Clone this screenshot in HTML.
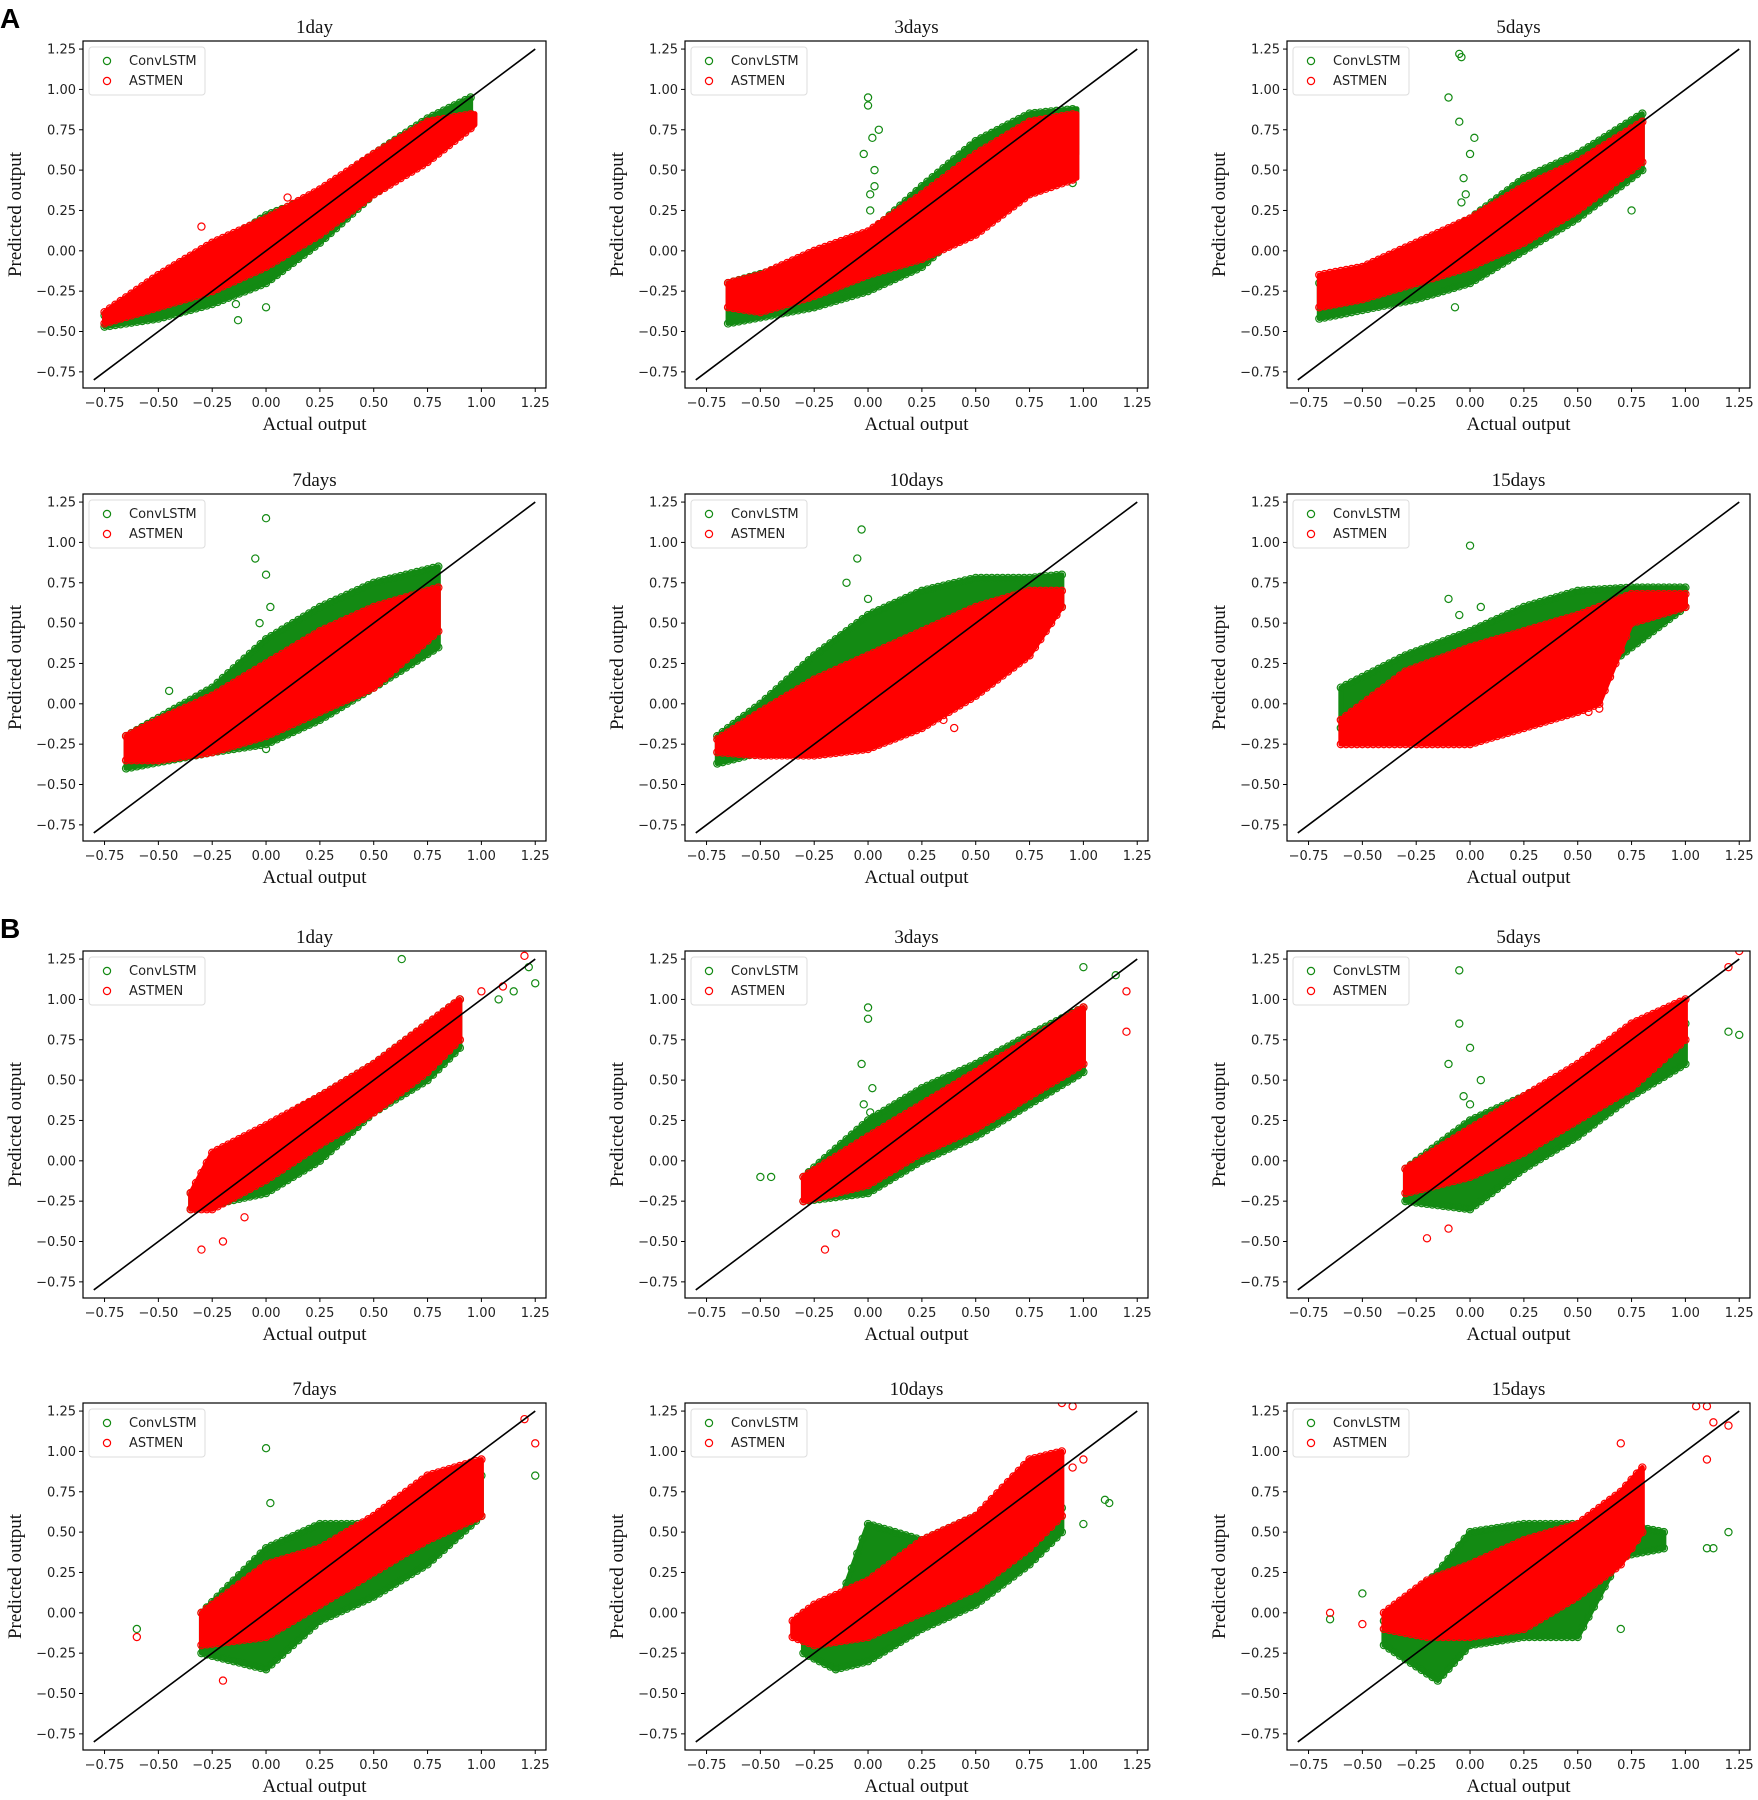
<!DOCTYPE html>
<html><head><meta charset="utf-8"><style>
html,body{margin:0;padding:0;background:#fff;}
svg{display:block;}
.tick{font-family:"DejaVu Sans","Liberation Sans",sans-serif;font-size:13px;fill:#222;}
.ttl{font-family:"Liberation Serif",serif;font-size:19px;fill:#111;}
.leg{font-family:"DejaVu Sans","Liberation Sans",sans-serif;font-size:13px;fill:#222;}
</style></head><body>
<svg id="fig" width="1758" height="1800" viewBox="0 0 1758 1800" xmlns="http://www.w3.org/2000/svg">
<text x="0" y="28" font-family="Liberation Sans,sans-serif" font-weight="bold" font-size="28">A</text>
<text x="0" y="938" font-family="Liberation Sans,sans-serif" font-weight="bold" font-size="28">B</text>
</svg>
<script>
const xTicks=[-0.75,-0.5,-0.25,0,0.25,0.5,0.75,1,1.25];
const yTicks=[-0.75,-0.5,-0.25,0,0.25,0.5,0.75,1,1.25];
const tickLabels=["−0.75","−0.50","−0.25","0.00","0.25","0.50","0.75","1.00","1.25"];
const titles=["1day","3days","5days","7days","10days","15days","1day","3days","5days","7days","10days","15days"];

// A1
const A1_gx=[-0.75,-0.5,-0.25,0,0.25,0.5,0.75,0.95];
const A1_glo=[-0.47,-0.42,-0.33,-0.2,0.05,0.35,0.6,0.85];
const A1_ghi=[-0.4,-0.2,0.0,0.22,0.35,0.6,0.82,0.95];
const A1_rx=[-0.75,-0.5,-0.25,0,0.25,0.5,0.75,0.97];
const A1_rlo=[-0.45,-0.35,-0.25,-0.1,0.1,0.35,0.55,0.78];
const A1_rhi=[-0.38,-0.15,0.05,0.2,0.38,0.6,0.8,0.85];
const A1_gout=[-0.13,-0.43,0.0,-0.35,-0.14,-0.33];
const A1_rout=[-0.3,0.15,0.1,0.33];
// A2
const A2_gx=[-0.65,-0.25,0,0.25,0.5,0.75,0.97];
const A2_glo=[-0.45,-0.35,-0.25,-0.1,0.2,0.4,0.6];
const A2_ghi=[-0.2,-0.05,0.1,0.4,0.68,0.85,0.88];
const A2_rx=[-0.65,-0.5,-0.25,0,0.25,0.5,0.75,0.97];
const A2_rlo=[-0.35,-0.38,-0.28,-0.15,-0.05,0.1,0.35,0.45];
const A2_rhi=[-0.2,-0.15,0.0,0.12,0.35,0.6,0.8,0.85];
const A2_gout=[0,0.95,0.0,0.9,0.02,0.7,0.03,0.5,0.01,0.35,-0.02,0.6,0.05,0.75,0.95,0.42,0.01,0.25,0.03,0.4];
const A2_rout=[0.95,0.45,0.85,0.5];
// A3
const A3_gx=[-0.7,-0.25,0,0.25,0.5,0.8];
const A3_glo=[-0.42,-0.3,-0.2,0,0.2,0.5];
const A3_ghi=[-0.2,0.0,0.2,0.45,0.6,0.85];
const A3_rx=[-0.7,-0.5,-0.25,0,0.25,0.5,0.8];
const A3_rlo=[-0.35,-0.3,-0.2,-0.1,0.05,0.25,0.55];
const A3_rhi=[-0.15,-0.1,0.05,0.2,0.4,0.55,0.8];
const A3_gout=[-0.05,1.22,-0.04,1.2,-0.1,0.95,-0.05,0.8,0,0.6,-0.03,0.45,0.02,0.7,-0.07,-0.35,0.75,0.25,-0.02,0.35,-0.04,0.3];
const A3_rout=[-0.35,-0.22];
// A4
const A4_gx=[-0.65,-0.25,0,0.25,0.5,0.8];
const A4_glo=[-0.4,-0.3,-0.25,-0.1,0.1,0.35];
const A4_ghi=[-0.2,0.1,0.4,0.6,0.75,0.85];
const A4_rx=[-0.65,-0.5,-0.25,0,0.25,0.5,0.8];
const A4_rlo=[-0.35,-0.35,-0.3,-0.2,-0.05,0.1,0.45];
const A4_rhi=[-0.2,-0.1,0.05,0.25,0.45,0.6,0.72];
const A4_gout=[0,1.15,-0.05,0.9,0,0.8,0.02,0.6,-0.03,0.5,-0.45,0.08,0,-0.28];
const A4_rout=[];
// A5
const A5_gx=[-0.7,-0.5,-0.25,0,0.25,0.5,0.75,0.9];
const A5_glo=[-0.37,-0.3,-0.25,-0.15,-0.1,0.1,0.4,0.6];
const A5_ghi=[-0.2,0.0,0.3,0.55,0.7,0.78,0.78,0.8];
const A5_rx=[-0.7,-0.5,-0.25,0,0.25,0.5,0.75,0.9];
const A5_rlo=[-0.3,-0.32,-0.32,-0.28,-0.15,0.05,0.3,0.6];
const A5_rhi=[-0.22,-0.05,0.15,0.3,0.45,0.6,0.7,0.7];
const A5_gout=[-0.03,1.08,-0.05,0.9,-0.1,0.75,0,0.65];
const A5_rout=[0.4,-0.15,0.35,-0.1];
// A6
const A6_gx=[-0.6,-0.3,0,0.25,0.5,0.75,1.0];
const A6_glo=[-0.15,-0.2,-0.15,-0.05,0.1,0.35,0.6];
const A6_ghi=[0.1,0.3,0.45,0.6,0.7,0.72,0.72];
const A6_rx=[-0.6,-0.3,0,0.25,0.5,0.6,0.75,1.0];
const A6_rlo=[-0.25,-0.25,-0.25,-0.15,-0.05,0.0,0.5,0.6];
const A6_rhi=[-0.1,0.2,0.35,0.45,0.55,0.6,0.68,0.68];
const A6_gout=[0,0.98,-0.1,0.65,-0.05,0.55,0.05,0.6];
const A6_rout=[0.55,-0.05,0.6,-0.03];
// B1
const B1_gx=[-0.35,0,0.25,0.5,0.75,0.9];
const B1_glo=[-0.3,-0.2,0.0,0.3,0.5,0.7];
const B1_ghi=[-0.2,0.2,0.4,0.6,0.85,1.0];
const B1_rx=[-0.35,-0.25,0,0.25,0.5,0.75,0.9];
const B1_rlo=[-0.3,-0.3,-0.12,0.1,0.3,0.55,0.75];
const B1_rhi=[-0.2,0.05,0.22,0.4,0.6,0.85,1.0];
const B1_gout=[0.63,1.25,1.25,1.1,1.22,1.2,1.15,1.05,1.08,1.0];
const B1_rout=[1.2,1.27,1.0,1.05,-0.3,-0.55,-0.2,-0.5,-0.1,-0.35,1.1,1.08];
// B2
const B2_gx=[-0.3,0,0.25,0.5,0.75,1.0];
const B2_glo=[-0.25,-0.2,0.0,0.15,0.35,0.55];
const B2_ghi=[-0.1,0.25,0.45,0.6,0.78,0.95];
const B2_rx=[-0.3,0,0.25,0.5,0.75,1.0];
const B2_rlo=[-0.25,-0.15,0.05,0.2,0.4,0.6];
const B2_rhi=[-0.1,0.15,0.35,0.55,0.75,0.95];
const B2_gout=[-0.5,-0.1,-0.45,-0.1,0.0,0.95,0.0,0.88,-0.03,0.6,0.02,0.45,1.0,1.2,1.15,1.15,-0.02,0.35,0.01,0.3];
const B2_rout=[-0.2,-0.55,-0.15,-0.45,1.2,1.05,1.2,0.8];
// B3
const B3_gx=[-0.3,0,0.25,0.5,0.75,1.0];
const B3_glo=[-0.25,-0.3,-0.05,0.15,0.4,0.6];
const B3_ghi=[-0.05,0.25,0.4,0.55,0.78,0.85];
const B3_rx=[-0.3,0,0.25,0.5,0.75,1.0];
const B3_rlo=[-0.2,-0.1,0.05,0.25,0.45,0.75];
const B3_rhi=[-0.05,0.2,0.4,0.6,0.85,1.0];
const B3_gout=[-0.05,1.18,-0.05,0.85,0,0.7,-0.1,0.6,0.05,0.5,1.2,0.8,1.25,0.78,-0.03,0.4,0.0,0.35];
const B3_rout=[1.25,1.3,1.2,1.2,-0.2,-0.48,-0.1,-0.42];
// B4
const B4_gx=[-0.3,0,0.25,0.5,0.75,1.0];
const B4_glo=[-0.25,-0.35,-0.05,0.1,0.3,0.6];
const B4_ghi=[0.0,0.4,0.55,0.55,0.75,0.85];
const B4_rx=[-0.3,0,0.25,0.5,0.75,1.0];
const B4_rlo=[-0.2,-0.15,0.05,0.25,0.45,0.6];
const B4_rhi=[0.0,0.3,0.4,0.6,0.85,0.95];
const B4_gout=[0,1.02,-0.6,-0.1,1.25,0.85,0.02,0.68];
const B4_rout=[-0.6,-0.15,1.2,1.2,-0.2,-0.42,1.25,1.05];
// B5
const B5_gx=[-0.3,-0.15,0,0.25,0.5,0.75,0.9];
const B5_glo=[-0.25,-0.35,-0.3,-0.1,0.05,0.3,0.5];
const B5_ghi=[0.0,0.0,0.55,0.45,0.6,0.7,0.65];
const B5_rx=[-0.35,-0.25,0,0.25,0.5,0.75,0.9];
const B5_rlo=[-0.15,-0.2,-0.15,0.0,0.15,0.4,0.6];
const B5_rhi=[-0.05,0.05,0.2,0.45,0.6,0.95,1.0];
const B5_gout=[1.1,0.7,1.0,0.55,1.12,0.68];
const B5_rout=[0.9,1.3,0.95,1.28,1.0,0.95,0.95,0.9];
// B6
const B6_gx=[-0.4,-0.15,0,0.25,0.5,0.7,0.9];
const B6_glo=[-0.2,-0.42,-0.2,-0.15,-0.15,0.35,0.4];
const B6_ghi=[-0.05,0.25,0.5,0.55,0.55,0.55,0.5];
const B6_rx=[-0.4,-0.2,0,0.25,0.5,0.7,0.8];
const B6_rlo=[-0.1,-0.15,-0.15,-0.1,0.1,0.3,0.5];
const B6_rhi=[0.0,0.2,0.3,0.45,0.55,0.75,0.9];
const B6_gout=[-0.65,-0.04,-0.5,0.12,1.2,0.5,1.1,0.4,0.7,-0.1,1.13,0.4];
const B6_rout=[1.05,1.28,1.1,1.28,1.13,1.18,1.1,0.95,0.7,1.05,-0.65,0.0,-0.5,-0.07,1.2,1.16];

const panels=[
[A1_gx,A1_glo,A1_ghi,A1_rx,A1_rlo,A1_rhi,A1_gout,A1_rout],
[A2_gx,A2_glo,A2_ghi,A2_rx,A2_rlo,A2_rhi,A2_gout,A2_rout],
[A3_gx,A3_glo,A3_ghi,A3_rx,A3_rlo,A3_rhi,A3_gout,A3_rout],
[A4_gx,A4_glo,A4_ghi,A4_rx,A4_rlo,A4_rhi,A4_gout,A4_rout],
[A5_gx,A5_glo,A5_ghi,A5_rx,A5_rlo,A5_rhi,A5_gout,A5_rout],
[A6_gx,A6_glo,A6_ghi,A6_rx,A6_rlo,A6_rhi,A6_gout,A6_rout],
[B1_gx,B1_glo,B1_ghi,B1_rx,B1_rlo,B1_rhi,B1_gout,B1_rout],
[B2_gx,B2_glo,B2_ghi,B2_rx,B2_rlo,B2_rhi,B2_gout,B2_rout],
[B3_gx,B3_glo,B3_ghi,B3_rx,B3_rlo,B3_rhi,B3_gout,B3_rout],
[B4_gx,B4_glo,B4_ghi,B4_rx,B4_rlo,B4_rhi,B4_gout,B4_rout],
[B5_gx,B5_glo,B5_ghi,B5_rx,B5_rlo,B5_rhi,B5_gout,B5_rout],
[B6_gx,B6_glo,B6_ghi,B6_rx,B6_rlo,B6_rhi,B6_gout,B6_rout]];

const NS="http://www.w3.org/2000/svg";
const svg=document.getElementById('fig');
const colL=[83,685,1287], rowT=[41,494,951,1403];
const PW=463, PH=347;
const XMIN=-0.85,XMAX=1.3,YMIN=-0.85,YMAX=1.3;
const GREEN="#138a13", RED="#ff0000";
function mk(tag,attrs,parent){const e=document.createElementNS(NS,tag);for(const k in attrs)e.setAttribute(k,attrs[k]);(parent||svg).appendChild(e);return e;}
function interp(xs,ys,x){if(x<=xs[0])return ys[0];for(let i=1;i<xs.length;i++){if(x<=xs[i]){const t=(x-xs[i-1])/(xs[i]-xs[i-1]);return ys[i-1]+t*(ys[i]-ys[i-1]);}}return ys[ys.length-1];}

panels.forEach((p,idx)=>{
  const L=colL[idx%3], T=rowT[Math.floor(idx/3)];
  const sx=v=>L+(v-XMIN)/(XMAX-XMIN)*PW;
  const sy=v=>T+PH-(v-YMIN)/(YMAX-YMIN)*PH;
  const g=mk('g',{});
  
  
  const clipId='clip'+idx;
  const cp=mk('clipPath',{id:clipId},g);mk('rect',{x:L,y:T,width:PW,height:PH},cp);
  const plot=mk('g',{'clip-path':'url(#'+clipId+')'},g);
  function band(xs,lo,hi,color,name){
    const bg=mk('g',{},plot);
    
    
    let pts=xs.map((x,i)=>sx(x)+','+sy(hi[i]));
    for(let i=xs.length-1;i>=0;i--)pts.push(sx(xs[i])+','+sy(lo[i]));
    mk('polygon',{points:pts.join(' '),fill:color,stroke:color,'stroke-width':5,'stroke-linejoin':'round'},bg);
    const x0=xs[0],x1=xs[xs.length-1];
    for(let x=x0;x<=x1+1e-9;x+=0.025){
      const a=interp(xs,lo,x),b=interp(xs,hi,x);
      mk('circle',{cx:sx(x),cy:sy(a),r:3.6,fill:'none',stroke:color,'stroke-width':1.2},bg);
      mk('circle',{cx:sx(x),cy:sy(b),r:3.6,fill:'none',stroke:color,'stroke-width':1.2},bg);
    }
  }
  function outl(arr,color,name){
    for(let i=0;i+1<arr.length;i+=2){
      const c=mk('circle',{cx:sx(arr[i]),cy:sy(arr[i+1]),r:3.6,fill:'none',stroke:color,'stroke-width':1.2},plot);
      
      
    }
  }
  band(p[0],p[1],p[2],GREEN,'convlstm-cloud');
  outl(p[6],GREEN,'convlstm-outlier');
  band(p[3],p[4],p[5],RED,'astmen-cloud');
  outl(p[7],RED,'astmen-outlier');
  const dl=mk('line',{x1:sx(-0.8),y1:sy(-0.8),x2:sx(1.25),y2:sy(1.25),stroke:'#000','stroke-width':1.6},g);
  
  
  const fr=mk('rect',{x:L,y:T,width:PW,height:PH,fill:'none',stroke:'#000','stroke-width':1.2},g);
  
  
  xTicks.forEach((v,i)=>{
    mk('line',{x1:sx(v),y1:T+PH,x2:sx(v),y2:T+PH+4,stroke:'#000','stroke-width':1},g);
    const t=mk('text',{x:sx(v),y:T+PH+19,'text-anchor':'middle',class:'tick'},g);
    t.textContent=tickLabels[i];
    
    
  });
  yTicks.forEach((v,i)=>{
    mk('line',{x1:L-4,y1:sy(v),x2:L,y2:sy(v),stroke:'#000','stroke-width':1},g);
    const t=mk('text',{x:L-7,y:sy(v)+4.5,'text-anchor':'end',class:'tick'},g);
    t.textContent=tickLabels[i];
    
    
  });
  const tt=mk('text',{x:L+PW/2,y:T-8,'text-anchor':'middle',class:'ttl'},g);
  tt.textContent=titles[idx];
  
  
  const xl=mk('text',{x:L+PW/2,y:T+PH+42,'text-anchor':'middle',class:'ttl'},g);
  xl.textContent='Actual output';
  
  
  const yl=mk('text',{x:0,y:0,'text-anchor':'middle',class:'ttl',transform:'translate('+(L-62)+','+(T+PH/2)+') rotate(-90)'},g);
  yl.textContent='Predicted output';
  
  
  const lg=mk('g',{},g);
  
  
  mk('rect',{x:L+6,y:T+6,width:116,height:48,rx:3,fill:'#fff','fill-opacity':0.85,stroke:'#ddd','stroke-width':1},lg);
  mk('circle',{cx:L+24,cy:T+20,r:3.6,fill:'none',stroke:GREEN,'stroke-width':1.2},lg);
  mk('circle',{cx:L+24,cy:T+40,r:3.6,fill:'none',stroke:RED,'stroke-width':1.2},lg);
  const l1=mk('text',{x:L+46,y:T+24,class:'leg'},lg);l1.textContent='ConvLSTM';
  
  
  const l2=mk('text',{x:L+46,y:T+44,class:'leg'},lg);l2.textContent='ASTMEN';
  
  
});
</script>
</body></html>
